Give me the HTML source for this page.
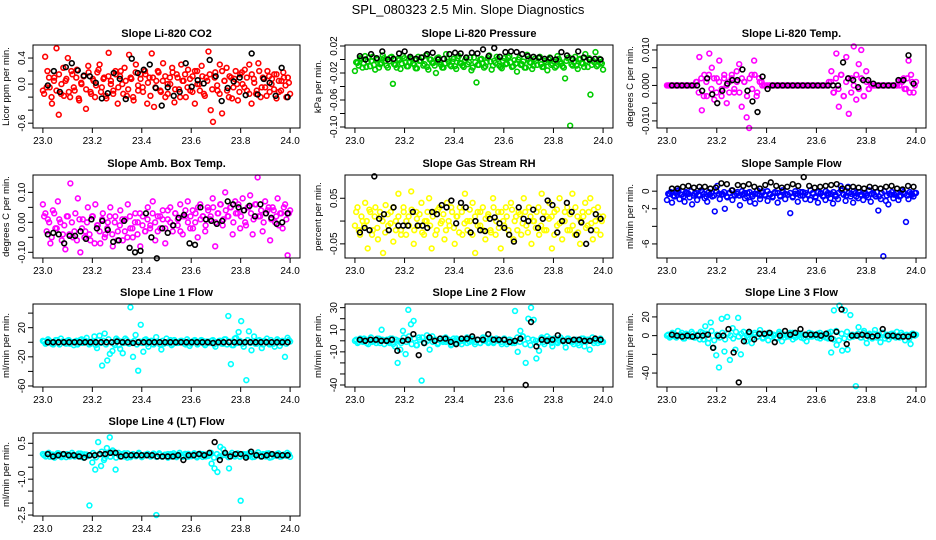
<!DOCTYPE html>
<html><head><meta charset="utf-8"><style>
html,body{margin:0;padding:0;background:#fff;}
svg{display:block;font-family:"Liberation Sans",sans-serif;}
</style></head><body>
<svg id="c" width="936" height="540" viewBox="0 0 936 540">
<text x="468" y="14" text-anchor="middle" font-size="13">SPL_080323  2.5 Min. Slope Diagnostics</text>
</svg>
<script>
const xTickLabels = ["23.0","23.2","23.4","23.6","23.8","24.0"];
const xTickValues = [23.0,23.2,23.4,23.6,23.8,24.0];
const titles = ["Slope Li-820 CO2","Slope Li-820 Pressure","Slope Li-820 Temp.","Slope Amb. Box Temp.","Slope Gas Stream RH","Slope Sample Flow","Slope Line 1 Flow","Slope Line 2 Flow","Slope Line 3 Flow","Slope Line 4 (LT) Flow"];
const yTitles = ["Licor ppm per min.","kPa per min.","degrees C per min.","degrees C per min.","percent per min.","ml/min per min.","ml/min per min.","ml/min per min.","ml/min per min.","ml/min per min."];
const yDomains = [[-0.674,0.6],[-0.1015,0.0215],[-0.012,0.0114],[-0.119,0.158],[-0.081,0.101],[-7.6,1.84],[-61.4,52.5],[-41.8,33.3],[-54.9,33.8],[-2.54,0.93]];
const yTicks = [[0.4,0.2,0,-0.2,-0.4,-0.6],[0.02,0,-0.02,-0.04,-0.06,-0.08,-0.10],[0.01,0.005,0,-0.005,-0.01],[0.1,0.05,0,-0.05,-0.1],[0.05,0,-0.05],[0,-2,-4,-6],[40,20,0,-20,-40,-60],[30,20,10,0,-10,-20,-30,-40],[20,0,-20,-40],[0.5,0,-0.5,-1,-1.5,-2,-2.5]];
const yTickLabels = [["0.4","","0.0","","","-0.6"],["0.02","","-0.02","","-0.06","","-0.10"],["0.010","","0.000","","-0.010"],["0.10","","0.00","","-0.10"],["0.05","","-0.05"],["0","-2","","-6"],["","20","","-20","","-60"],["30","","10","","-10","","","-40"],["20","0","","-40"],["0.5","","","-1.0","","","-2.5"]];
const colors = ["#ff0000","#00cc00","#ff00ff","#ff00ff","#ffff00","#0000ff","#00ffff","#00ffff","#00ffff","#00ffff"];

const co2 = [-0.1,0.42,0.2,-0.05,-0.3,0.1,0.55,-0.47,-0.15,0.25,0.05,0.4,-0.2,0.15,-0.1,0.22,-0.25,0.0,0.12,-0.38,0.28,-0.12,0.08,-0.2,0.18,0.3,-0.05,0.1,-0.22,0.48,0.05,-0.15,0.2,-0.3,0.12,0.0,0.25,-0.18,0.45,0.08,-0.25,0.3,-0.1,0.15,-0.05,0.2,-0.3,0.1,0.47,-0.35,0.05,0.18,-0.12,0.32,-0.2,0.0,0.1,0.25,-0.28,0.15,-0.08,0.3,0.05,-0.2,0.22,-0.1,0.12,-0.3,0.2,0.0,0.28,-0.15,0.1,0.5,-0.4,-0.58,0.18,-0.1,0.3,-0.45,0.05,0.25,-0.2,0.1,-0.05,0.2,-0.25,0.15,0.0,0.22,-0.1,0.3,-0.3,0.08,-0.15,0.32,-0.2,0.1,-0.05,0.2,-0.12,0.08,0.15,-0.22,0.05,-0.1,0.18,-0.02,0.1,-0.15];
const co2B = [-0.15,-0.05,0.1,-0.2,0.05,-0.1,0.15,0.0,-0.18,0.08,-0.12,0.2,-0.05,0.1,-0.22,0.02,0.12,-0.08,0.18,-0.15,0.05,-0.02,0.22,-0.12,0.08,-0.18,0.12,0.0,-0.1,0.15,-0.05,0.2,-0.15,0.05,-0.08,0.1,-0.2,0.18,-0.02,0.08,-0.12,0.15,0.02,-0.18,0.1,-0.05,0.2,-0.1,0.05,0.12,-0.15,0.0,0.18,-0.08,0.1,-0.2,0.05,0.15,-0.05,0.08,-0.12,0.2,0.0,-0.1,0.12,-0.18,0.05,0.15,-0.08,0.1,-0.02,-0.15,0.2,0.05,-0.1,0.12,-0.22,0.08,0.0,-0.12,0.18,-0.05,0.1,-0.15,0.15,0.02,-0.1,0.2,-0.05,0.08,-0.18,0.12,0.0,-0.08,0.15,-0.12,0.05,0.1,-0.2,0.02];
const co2Ref = [-0.02,0.2,-0.12,0.26,0.32,0.21,0.13,0.12,0.02,-0.22,-0.14,0.17,0.08,-0.23,0.39,0.17,0.22,0.3,-0.06,-0.33,-0.05,-0.18,-0.12,0.32,-0.04,0.06,0.01,0.37,0.12,-0.26,-0.06,0.04,0.1,-0.17,0.47,-0.16,0.08,0.02,-0.18,0.25,-0.2];
const pres = [-0.017,-0.005,0.002,-0.012,0.005,-0.003,-0.01,0.004,-0.015,0.0,-0.007,0.006,-0.002,-0.012,0.003,-0.036,-0.008,0.001,-0.014,0.005,-0.004,-0.01,0.002,-0.006,-0.013,0.004,-0.002,-0.009,0.006,-0.015,0.0,-0.005,-0.02,0.003,-0.008,-0.012,0.008,-0.003,-0.01,0.001,-0.014,0.005,-0.006,-0.011,0.002,-0.004,-0.016,0.003,-0.034,-0.008,0.001,-0.012,-0.004,0.006,-0.015,-0.002,0.004,-0.009,-0.013,0.002,-0.006,0.005,-0.011,-0.001,-0.018,0.003,-0.007,-0.012,0.007,-0.004,-0.014,0.001,-0.008,0.004,-0.011,-0.002,-0.016,0.003,-0.006,-0.012,0.005,-0.003,-0.01,-0.028,0.002,-0.098,-0.009,0.004,-0.014,0.001,-0.006,0.008,-0.011,-0.052,-0.002,0.011,-0.008,-0.004,-0.015];
const presB = [-0.004,-0.009,0.001,-0.006,-0.011,0.003,-0.002,-0.008,0.0,-0.012,-0.005,0.002,-0.009,-0.003,0.004,-0.007,-0.012,-0.001,-0.006,0.002,-0.01,-0.004,0.001,-0.008,-0.013,-0.002,0.003,-0.007,-0.011,0.0,-0.005,-0.009,0.002,-0.004,-0.012,-0.006,0.001,-0.008,-0.003,-0.01,0.002,-0.005,-0.009,-0.001,-0.007,0.003,-0.012,-0.004,-0.008,0.0,-0.006,-0.01,0.002,-0.003,-0.009,-0.005,0.001,-0.011,-0.002,-0.007,0.003,-0.004,-0.01,-0.006,0.0,-0.008,-0.003,-0.012,0.001,-0.005,-0.009,-0.002,0.002,-0.007,-0.011,-0.004,0.0,-0.008,-0.003,-0.01,0.001,-0.006,-0.012,-0.002,0.003,-0.007,-0.004,-0.009,0.0,-0.005,-0.011,-0.002,0.002,-0.008,-0.004,-0.01,0.001,-0.006];
const presRef = [0.005,0.0,0.008,0.002,0.012,0.0,0.001,0.009,0.012,0.004,0.001,0.003,0.008,0.01,0.0,0.001,0.008,0.01,0.009,0.003,0.01,0.009,0.015,0.005,0.017,0.004,0.011,0.012,0.011,0.008,0.005,0.004,0.003,0.001,0.002,0.0,0.011,0.006,0.001,0.012,0.003,0.0,0.001,0.0];
const tmp = [0,0,0,0,0,0,0,0,0,0,0,0,0.001,0.008,-0.007,0.003,-0.003,0.009,0.005,-0.004,0.002,0.007,-0.001,0.003,-0.005,0.001,0.002,-0.002,0.004,0.006,-0.006,0.001,-0.009,-0.012,0.003,0.007,-0.003,0.002,0.001,0,0,0,0,0,0,0,0,0,0,0,0,0,0,0,0,0,0,0,0,0,0,0,0,0,0,0.001,0.004,-0.002,0.009,-0.006,0.003,-0.003,0.008,-0.008,0.002,0.011,-0.004,0.006,0.01,-0.003,0.004,-0.001,0,0,0,0,0,0,0,0,0,0,0,0.001,0.0015,0.002,-0.001,0.007,0.003,-0.002,0.001];
const tmpB = [0,0,0,0,0,0,0,0,0,0,0,0.001,-0.002,0.002,-0.003,0.001,0.003,-0.001,0.002,-0.002,0.001,-0.003,0.002,0.0,-0.002,0.003,-0.001,0.001,-0.002,0.002,0.001,-0.003,0.002,-0.001,0.003,-0.002,0.001,0.0,0,0,0,0,0,0,0,0,0,0,0,0,0,0,0,0,0,0,0,0,0,0,0,0,0,0,0.001,-0.002,0.002,-0.001,0.003,-0.003,0.001,0.002,-0.002,0.0,0.003,-0.001,0.002,-0.003,0.001,-0.001,0,0,0,0,0,0,0,0,0,0,0,0,0.001,-0.001,0.002,-0.002,0.001,0.0];
const tmpRef = [0,0,0,0,0,0,-0.0015,0.002,-0.0025,-0.005,-0.0015,0.0005,0.0015,0.0015,0.0045,-0.0015,-0.0045,-0.0075,0.0025,-0.001,0,0,0,0,0,0,0,0,0,0,0,0,0,0,0.0065,0.002,0.0015,-0.0005,0.0015,0.0015,0.0005,0,0,0,0,0.0015,0.0015,0.0085,0.0005];
const amb = [0.06,0.03,0.01,-0.07,0.04,-0.02,0.07,0.0,-0.04,-0.09,0.02,0.13,-0.05,0.03,0.08,-0.1,0.01,-0.03,0.05,-0.06,0.02,0.06,-0.01,-0.07,0.03,-0.04,0.0,0.05,-0.08,0.02,-0.03,0.04,-0.06,0.01,0.06,-0.02,-0.05,0.03,0.0,-0.08,0.02,-0.03,0.05,-0.01,0.07,-0.06,0.02,-0.02,0.04,-0.07,0.01,0.05,-0.03,0.03,-0.01,0.06,-0.04,0.02,0.07,-0.02,0.04,0.0,-0.05,0.06,0.02,-0.03,0.05,0.01,0.08,-0.08,0.03,0.06,-0.01,0.1,0.02,0.05,-0.04,0.07,0.03,-0.02,0.08,0.0,0.05,0.09,-0.04,0.06,0.15,0.02,-0.03,0.07,0.04,-0.06,0.05,0.0,0.08,0.03,-0.02,0.06,-0.11,0.04];
const ambB = [0.02,-0.03,0.0,-0.05,0.03,-0.02,0.01,-0.06,-0.01,0.02,-0.04,0.0,-0.03,-0.06,0.01,-0.02,-0.05,0.0,-0.04,0.02,-0.07,-0.01,-0.03,0.01,-0.05,-0.02,0.02,-0.04,0.0,-0.06,-0.01,0.01,-0.03,-0.05,0.02,-0.02,0.0,-0.04,0.03,-0.01,-0.03,0.01,-0.02,0.03,0.0,-0.03,0.02,0.01,-0.02,0.04,0.0,-0.01,0.03,0.01,-0.03,0.02,0.04,0.0,0.02,-0.02,0.03,0.05,0.01,0.02,-0.01,0.04,0.02,0.05,0.0,0.03,0.06,0.01,0.04,0.02,0.05,0.0,0.03,0.06,0.02,0.04,-0.01,0.05,0.03,0.01,0.06,0.02,0.04,0.0,0.03,0.05,0.01,0.04,0.02,-0.01,0.03,0.05,0.01,0.03];
const ambRef = [-0.04,-0.035,-0.04,-0.07,-0.045,-0.045,-0.03,-0.055,0.01,-0.02,0.005,-0.025,-0.065,-0.06,0.005,-0.085,-0.1,-0.095,0.03,-0.05,-0.12,-0.02,-0.035,-0.01,0.015,0.025,-0.07,-0.075,0.05,0.01,0.005,-0.005,0.005,0.07,0.06,0.05,0.04,0.055,0.02,0.06,0.03,0.015,-0.005,0.0,0.03];
const rh = [-0.01,0.03,-0.03,0.0,0.04,-0.06,0.02,-0.02,0.03,-0.04,0.01,-0.07,0.035,-0.01,0.02,-0.045,0.0,0.06,-0.02,0.03,-0.03,0.01,0.065,-0.05,0.02,-0.01,0.04,-0.03,0.0,0.05,-0.06,0.02,-0.02,0.03,0.0,-0.04,0.04,-0.01,0.02,-0.05,0.01,0.03,-0.03,0.06,-0.02,0.0,0.04,-0.07,0.02,-0.01,0.03,-0.04,0.01,-0.02,0.05,-0.03,0.02,-0.06,0.0,0.03,-0.02,0.04,-0.04,0.01,0.02,-0.03,0.05,-0.01,0.03,-0.05,0.0,0.02,-0.03,0.06,-0.02,0.01,0.04,-0.06,0.02,-0.01,0.05,-0.04,0.0,0.03,-0.02,0.06,-0.03,0.01,-0.05,0.02,0.04,-0.01,0.05,-0.04,0.0,0.03,-0.03,0.01];
const rhB = [0.02,-0.02,0.01,-0.01,0.0,0.025,-0.03,0.01,-0.015,0.02,0.0,-0.025,0.015,-0.005,0.03,-0.02,0.01,-0.03,0.02,0.0,-0.01,0.025,-0.02,0.005,0.015,-0.025,0.0,0.02,-0.01,0.01,-0.03,0.025,-0.005,0.015,-0.02,0.0,0.03,-0.015,0.01,-0.025,0.02,-0.005,0.0,0.025,-0.03,0.01,-0.01,0.02,-0.02,0.005,0.015,-0.025,0.03,0.0,-0.015,0.02,-0.01,0.01,-0.03,0.025,0.0,-0.02,0.015,-0.005,0.02,-0.025,0.01,0.0,-0.015,0.03,-0.01,0.02,-0.02,0.005,0.01,-0.03,0.025,-0.005,0.0,0.02,-0.02,0.015,-0.01,0.03,-0.025,0.0,0.01,-0.015,0.02,-0.005,0.025,-0.02,0.01,0.0];
const rhRef = [-0.025,-0.015,-0.02,0.098,0.005,0.015,-0.02,0.03,-0.01,-0.01,-0.01,0.02,-0.01,-0.01,-0.015,0.02,0.015,0.035,0.03,0.045,-0.005,0.04,0.03,-0.025,0.0,-0.02,-0.022,0.005,0.008,-0.005,-0.015,-0.03,-0.045,0.03,0.005,0.0,0.025,-0.015,0.005,0.045,0.035,-0.025,0.0,0.04,0.02,-0.03,-0.003,-0.05,-0.02,0.015,0.005];
const flow = [-1.0,-0.3,-1.3,-0.6,0.0,-0.9,-0.4,-1.2,-0.2,-0.7,-1.5,-0.3,-1.0,-0.5,-0.1,-0.8,-1.2,-0.4,-0.6,-2.3,0.6,-0.9,-0.3,-2.0,-0.7,-0.2,-1.0,-0.5,-0.1,-1.6,-0.4,-0.8,-0.2,-1.2,-0.6,-1.4,-0.3,-0.9,0.0,-0.5,-1.1,-0.4,-0.7,-0.2,-1.3,-0.6,-0.1,-0.9,-0.4,-2.5,-0.7,-0.3,-1.2,-0.5,-0.1,-0.9,-0.4,-1.0,-0.2,-0.7,-1.3,-0.3,-0.6,-1.0,-0.2,-0.8,-1.4,-0.4,-0.9,0.6,-0.3,-1.1,0.5,-0.6,-1.3,-0.2,-0.8,-0.4,-1.0,-0.3,-0.7,-1.2,-0.2,-0.6,-2.2,-0.9,-7.4,-1.1,-1.5,-0.4,-0.8,-0.2,-1.0,-0.5,-0.1,-3.5,-0.9,-0.3,-0.6,-0.2];
const flowB = [-0.3,-0.1,-0.5,-0.2,0.1,-0.4,-0.6,-0.1,-0.3,0.0,-0.5,-0.2,-0.4,0.1,-0.3,-0.6,-0.1,-0.2,-0.5,0.0,-0.3,-0.4,-0.1,-0.6,-0.2,0.1,-0.4,-0.3,-0.5,0.0,-0.2,-0.6,-0.1,-0.4,-0.3,0.1,-0.5,-0.2,-0.4,0.0,-0.3,-0.6,-0.1,-0.2,-0.5,0.1,-0.3,-0.4,-0.2,-0.6,0.0,-0.3,-0.1,-0.5,-0.2,-0.4,0.1,-0.3,-0.6,-0.1,-0.2,-0.5,0.0,-0.4,-0.3,-0.1,-0.6,-0.2,0.1,-0.4,-0.5,-0.2,-0.3,0.0,-0.6,-0.1,-0.4,-0.2,-0.5,0.1,-0.3,-0.4,-0.1,-0.6,-0.2,0.0,-0.5,-0.3,-0.1,-0.4,-0.2,-0.6,0.1,-0.3,-0.5,-0.1,-0.4,-0.2];
const flowRef = [0.3,0.3,0.5,0.6,0.4,0.5,0.5,0.3,0.4,0.9,0.8,0.1,0.7,0.6,0.8,0.5,0.3,0.7,1.0,0.6,0.4,0.5,0.8,0.6,1.6,0.6,0.4,0.5,0.6,0.7,0.8,0.3,0.4,0.5,0.4,0.3,0.5,0.4,0.3,0.5,0.6,0.3,0.2,0.6,0.5];
const l1 = [2,-2,4,0,-3,3,-1,5,1,-2,3,0,-4,2,-1,4,0,6,-3,1,8,-8,9,-32,12,-25,-16,-12,-4,3,-9,-15,5,-1,48,-20,10,-39,24,-13,4,-6,2,-3,7,0,-10,-2,5,1,-4,3,-1,0,2,-2,4,-5,1,3,-3,0,2,-4,1,-1,3,-6,0,2,-2,4,36,-30,-4,6,14,29,-6,-52,15,-11,8,-2,3,-8,2,5,-3,0,-6,4,-5,2,-20,6,1];
const l1B = [1,-1,2,-2,0,3,-3,1,-1,2,-2,0,1,-3,3,-1,2,0,-2,1,-4,3,-1,2,-3,4,0,-2,5,-4,1,-1,3,-2,0,2,-3,1,-1,3,-2,0,2,-1,1,-3,2,0,-1,3,-2,1,-1,2,0,-3,1,-2,2,0,-1,3,-2,1,-1,2,-3,0,2,-2,4,-3,1,-4,5,-1,2,-2,0,3,-1,1,-2,2,0,-3,1,-1,3,-2,0,2,-1,1,-2,3];
const l1Ref = [0,0,0,0,0,0,0,0,0,0,0,0,0,1,0,0,-1,0,0,0,0,0,0,0,0,0,0,0,0,0,0,-1,0,0,0,0,0,0,0,0,0,0,0,0,0,0];
const l2 = [0,-2,2,-1,1,-3,3,0,-2,2,10,-3,1,-2,2,-5,-20,-8,9,-12,28,15,18,-4,3,-36,-2,5,-8,4,1,-3,2,-1,3,0,-4,2,-2,1,-3,0,3,-1,2,-3,1,-2,0,3,-2,1,-1,2,0,-3,2,-1,1,-2,27,-10,9,4,-20,20,30,19,-16,-9,3,-3,4,2,-5,1,-2,3,0,-6,2,-1,-3,1,-4,2,-5,1,-8,3,0,-2,2,-1];
const l2B = [1,-1,0,2,-2,1,-1,0,2,-2,1,0,-1,2,-3,1,0,-2,3,-1,4,-3,2,-4,1,3,-2,0,2,-1,1,-2,0,2,-1,1,-3,0,2,-1,0,1,-2,2,0,-1,1,-2,3,0,-1,2,-2,1,0,-1,2,-3,1,0,-2,3,-1,4,-3,2,-4,1,0,-2,2,-1,1,0,-2,2,-1,0,1,-2,2,0,-1,1,-2,0,2,-1,1,0,-2,1,0,-1];
const l2Ref = [1,0,1,1,0,0,1,-9,0,1,6,-13,-2,3,0,2,2,-1,-3,2,2,4,1,1,6,1,1,1,-1,0,2,-40,17,-5,1,0,1,5,0,0,1,1,0,0,2,1];
const l3 = [0,-2,3,-1,5,1,-3,2,0,4,-2,1,-4,3,10,-8,14,-13,-21,-34,18,-17,20,-26,8,-15,19,-20,4,-6,2,-8,3,-1,6,-3,1,-5,2,0,-2,4,-6,1,-1,3,-4,0,2,-2,1,-6,3,-1,0,2,-3,1,-2,3,-18,27,-10,32,-16,27,-15,22,-1,-54,9,-2,5,-8,2,-3,6,1,-7,3,0,-4,2,-1,4,-2,1,-5,0,-9,2,1];
const l3B = [1,-1,2,-2,0,3,-3,1,-1,2,-2,0,4,-4,2,-3,5,-5,1,-2,3,-4,2,0,-3,4,-1,2,-2,0,3,-3,1,-1,2,-2,0,3,-1,1,-3,2,0,-2,1,-1,3,-2,0,2,-3,1,-1,2,0,-2,3,-1,1,-3,4,-4,5,-5,2,-3,4,-2,1,0,2,-2,3,-3,1,-1,2,-2,0,3,-3,1,-1,2,-2,0,3,-1,1,-3,2,0];
const l3Ref = [1,0,-1,0,-1,0,0,1,-13,0,0,7,-18,-50,-6,4,-4,2,2,3,-7,0,5,1,3,7,1,1,1,0,2,-3,4,28,-9,0,0,1,0,-1,0,7,0,0,-1,-1,-1,1];
const l4 = [0.05,-0.05,0.1,0.0,-0.1,0.08,-0.03,0.05,-0.08,0.02,0.1,-0.05,0.0,0.07,-0.1,0.03,-2.1,-0.3,-0.6,0.55,-0.45,-0.2,0.3,0.75,0.2,-0.6,0.1,-0.05,0.08,-0.1,0.0,0.05,-0.04,0.1,-0.08,0.02,0.06,-0.05,0.0,-2.5,0.08,-0.06,0.03,-0.1,0.05,0.0,-0.03,0.1,-0.07,0.02,0.06,-0.04,0.08,-0.09,0.01,0.05,-0.05,0.03,-0.35,-0.55,-0.7,0.35,0.25,0.0,-0.55,0.1,-0.05,0.08,-1.9,0.05,-0.03,0.1,-0.08,0.02,0.12,-0.06,0.0,0.07,-0.1,0.04,-0.02,0.08,-0.05,0.03,0.1,-0.07];
const l4B = [0.0,0.06,-0.06,0.03,-0.03,0.08,-0.08,0.0,0.05,-0.05,0.02,-0.02,0.07,-0.07,0.04,-0.04,0.0,0.09,-0.09,0.03,0.15,-0.12,0.06,-0.06,0.12,-0.1,0.0,0.05,-0.05,0.08,-0.08,0.02,-0.02,0.06,-0.06,0.0,0.04,-0.04,0.07,-0.07,0.03,-0.03,0.0,0.05,-0.05,0.08,-0.08,0.02,-0.02,0.06,-0.06,0.0,0.04,-0.04,0.07,-0.07,0.03,-0.03,0.1,-0.1,0.05,-0.05,0.0,0.08,-0.08,0.02,-0.02,0.06,-0.06,0.0,0.04,-0.04,0.07,-0.07,0.03,-0.03,0.05,-0.05,0.08,-0.08,0.0,0.06,-0.06,0.02,-0.02,0.04];
const l4Ref = [0.05,-0.05,0.0,0.05,0.0,0.0,-0.05,-0.1,0.0,0.0,0.05,0.05,0.1,0.1,-0.05,0.0,0.0,0.0,0.0,0.0,0.0,-0.05,-0.05,-0.05,-0.05,0.0,-0.2,0.0,0.0,0.05,0.0,0.1,0.55,-0.2,0.1,-0.05,0.05,0.05,-0.1,0.15,0.0,-0.05,0.0,0.05,0.0,0.0,0.0];

const series = [co2,pres,tmp,amb,rh,flow,l1,l2,l3,l4];
const seriesB = [co2B,presB,tmpB,ambB,rhB,flowB,l1B,l2B,l3B,l4B];
const refSeries = [co2Ref,presRef,tmpRef,ambRef,rhRef,flowRef,l1Ref,l2Ref,l3Ref,l4Ref];

const NS = "http://www.w3.org/2000/svg";
const svg = document.getElementById('c');
const cols = [[33,300],[345,613],[657,926]];
const rowsTop = [45,175,304,433];
const H = 83;
function mk(tag, attrs, parent){const e=document.createElementNS(NS,tag);for(const k in attrs)e.setAttribute(k,attrs[k]);(parent||svg).appendChild(e);return e;}

for(let p=0;p<10;p++){
  const L=cols[p%3][0], R=cols[p%3][1], T=rowsTop[Math.floor(p/3)], B=T+H;
  const g=mk('g',{});
  
  
  const xs=v=>L+(v-22.96)/(1.08)*(R-L);
  const yd=yDomains[p];
  const ys=v=>B-(v-yd[0])/(yd[1]-yd[0])*H;
  const t=mk('text',{x:(L+R)/2,y:T-8,'text-anchor':'middle','font-size':'11','font-weight':'bold'},g);
  t.textContent=titles[p];
  
  
  const yt=mk('text',{transform:`translate(${L-24},${(T+B)/2}) rotate(-90)`,'text-anchor':'middle','font-size':'9.5'},g);
  yt.textContent=yTitles[p];
  
  
  xTickValues.forEach((v,i)=>{
    const x=xs(v);
    mk('line',{x1:x,x2:x,y1:B,y2:B+5,stroke:'#000','stroke-width':1},g);
    const tx=mk('text',{x:x,y:B+16,'text-anchor':'middle','font-size':'10'},g);
    tx.textContent=xTickLabels[i];
    
    
  });
  yTicks[p].forEach((v,i)=>{
    const y=ys(v);
    mk('line',{x1:L-5,x2:L,y1:y,y2:y,stroke:'#000','stroke-width':1},g);
    if(yTickLabels[p][i]){
      const ty=mk('text',{transform:`translate(${L-8},${y}) rotate(-90)`,'text-anchor':'middle','font-size':'10'},g);
      ty.textContent=yTickLabels[p][i];
      
      
    }
  });
  const pts=mk('g',{fill:'none',stroke:colors[p],'stroke-width':1.6},g);
  
  
  const s=series[p], n=s.length;
  s.forEach((v,i)=>{
    const c=mk('circle',{cx:xs(23+i/(n-1)),cy:ys(v),r:2.4},pts);
    
    
  });
  const sb=seriesB[p], nb=sb.length;
  sb.forEach((v,i)=>{
    const c=mk('circle',{cx:xs(23.005+0.99*i/(nb-1)),cy:ys(v),r:2.4},pts);
    
    
  });
  const rp=mk('g',{fill:'none',stroke:'#000','stroke-width':1.6},g);
  
  
  const r=refSeries[p], m=r.length;
  r.forEach((v,i)=>{
    const c=mk('circle',{cx:xs(23.02+0.97*i/(m-1)),cy:ys(v),r:2.4},rp);
    
    
  });
  const box=mk('rect',{x:L,y:T,width:R-L,height:H,fill:'none',stroke:'#000','stroke-width':1},g);
  
  
}
</script>
</body></html>
